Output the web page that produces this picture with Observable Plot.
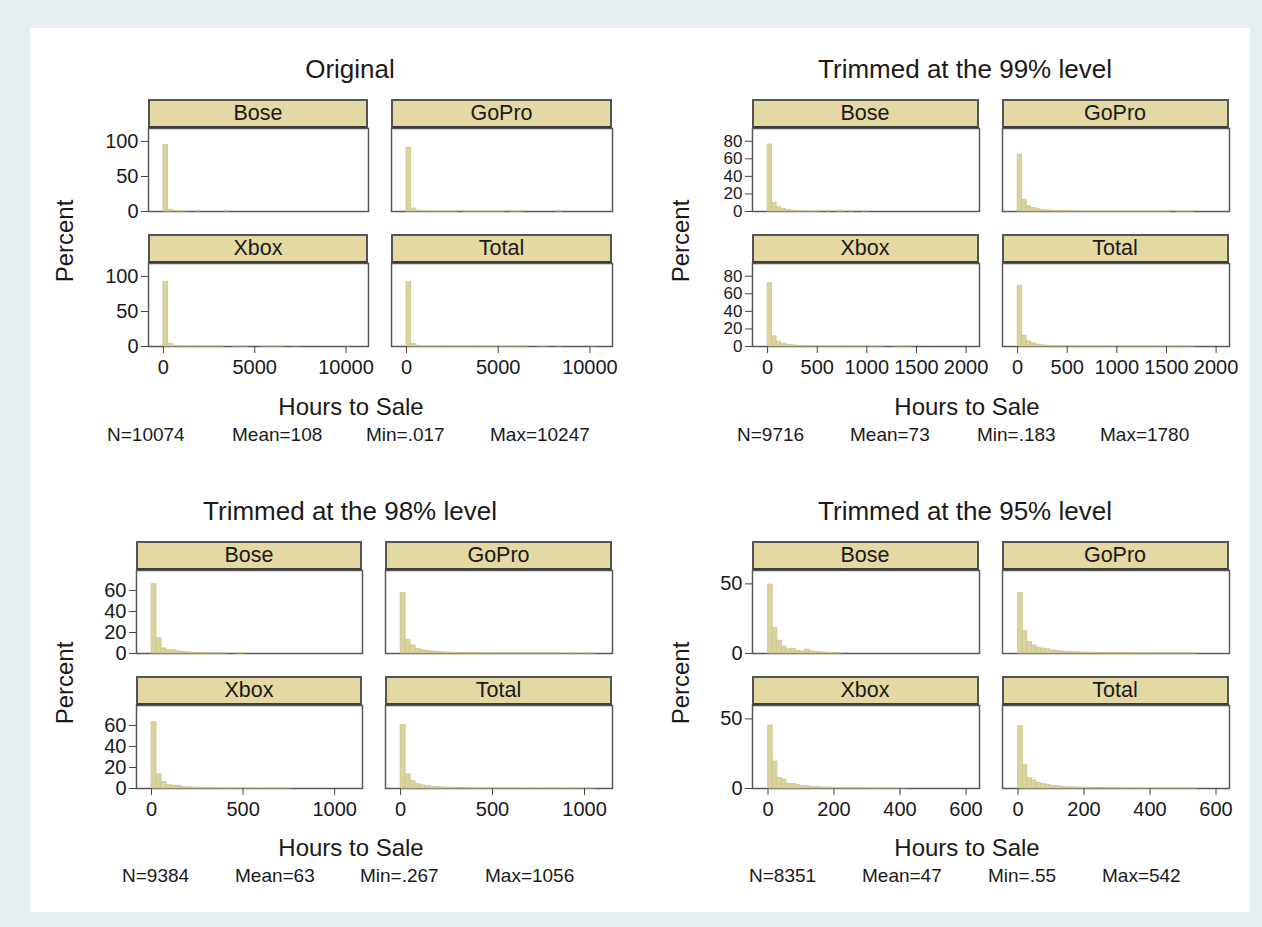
<!DOCTYPE html>
<html><head><meta charset="utf-8">
<script src="https://cdn.jsdelivr.net/npm/d3@7"></script>
<script src="https://cdn.jsdelivr.net/npm/@observablehq/plot@0.6"></script>
<style>
html,body{margin:0;padding:0;background:#e8eff2;}
#page{position:relative;width:1262px;height:927px;overflow:hidden;font-family:"Liberation Sans",Arial,sans-serif;color:#1a1a1a;}
#inner{position:absolute;left:30px;top:28px;width:1220px;height:884px;background:#fff;}
.t{position:absolute;white-space:nowrap;line-height:1;}
.hdr{position:absolute;box-sizing:border-box;background:#e4d9a3;border:2px solid #555;border-bottom:2.5px solid #3d3d3d;display:flex;align-items:center;justify-content:center;font-size:21.5px;line-height:1;}
.fac{position:absolute;}
</style></head><body><div id="page"><div id="inner"></div></div>
<script>
// ---------- data ----------
const groups = ["Bose", "GoPro", "Xbox", "Total"];
const panelTitles = ["Original", "Trimmed at the 99% level", "Trimmed at the 98% level", "Trimmed at the 95% level"];
const statN = [10074, 9716, 9384, 8351];
const statMean = [108, 73, 63, 47];
const statMin = [".017", ".183", ".267", ".55"];
const statMax = [10247, 1780, 1056, 542];
const binCount = [40, 39, 39, 39];
const xTicks = [[0, 5000, 10000], [0, 500, 1000, 1500, 2000], [0, 500, 1000], [0, 200, 400, 600]];
const yTicks = [[0, 50, 100], [0, 20, 40, 60, 80], [0, 20, 40, 60], [0, 50]];

// Percent per bin (Original)
const origBose = [
 95.2, 2.6, 0.7, 0.4, 0.3, 0, 0, 0.3, 0, 0,
 0, 0, 0, 0.3, 0, 0, 0, 0, 0, 0,
 0, 0, 0, 0, 0, 0, 0, 0, 0, 0,
 0, 0, 0, 0, 0, 0, 0, 0, 0, 0];
const origGoPro = [
 90.6, 4.2, 1.3, 0.4, 0.3, 0.3, 0.2, 0.2, 0.2, 0.2,
 0.2, 0, 0.1, 0.1, 0.1, 0.1, 0.1, 0.1, 0.1, 0.1,
 0.1, 0, 0.1, 0.1, 0.1, 0, 0, 0, 0, 0,
 0, 0, 0.1, 0, 0, 0, 0, 0, 0, 0];
const origXbox = [
 92.5, 4.0, 1.2, 0.6, 0.4, 0.3, 0.2, 0.2, 0.1, 0.1,
 0.1, 0.1, 0.1, 0, 0, 0.1, 0.1, 0.1, 0, 0,
 0, 0.1, 0.1, 0.1, 0.1, 0.1, 0, 0, 0.1, 0,
 0, 0, 0, 0, 0, 0, 0, 0, 0, 0.1];
const origTotal = [
 92.4, 3.7, 1.1, 0.5, 0.4, 0.3, 0.2, 0.2, 0.1, 0.1,
 0.1, 0.05, 0.1, 0.05, 0.05, 0.1, 0.05, 0.05, 0.05, 0.05,
 0.05, 0.05, 0.05, 0.05, 0.05, 0.05, 0, 0, 0.05, 0.05,
 0, 0, 0.05, 0, 0, 0, 0, 0, 0, 0.05];

// Trimmed 99%
const t99Bose = [
 76.3, 9.8, 5.2, 3.0, 1.6, 0.9, 0.6, 0.4, 0.3, 0.3,
 0.2, 0.2, 0, 0.2, 0, 0.2, 0.2, 0, 0.2, 0,
 0, 0.2, 0, 0, 0, 0, 0, 0, 0, 0,
 0, 0, 0, 0, 0, 0, 0, 0, 0];
const t99GoPro = [
 64.8, 13.0, 6.0, 4.1, 2.5, 1.7, 1.2, 0.9, 0.7, 0.6,
 0.5, 0.4, 0.35, 0.3, 0.3, 0.25, 0.25, 0.2, 0.2, 0.2,
 0.2, 0.2, 0.15, 0.15, 0.15, 0.15, 0.15, 0.15, 0.15, 0.15,
 0.1, 0.1, 0.1, 0.1, 0, 0.1, 0.1, 0.1, 0.1];
const t99Xbox = [
 72.0, 11.5, 5.5, 3.2, 2.0, 1.3, 0.9, 0.6, 0.5, 0.4,
 0.3, 0.25, 0.2, 0.2, 0.15, 0.15, 0.15, 0.1, 0.1, 0.1,
 0.1, 0.1, 0.1, 0.1, 0.1, 0.1, 0, 0, 0.1, 0.1,
 0.1, 0.1, 0, 0, 0, 0, 0, 0, 0];
const t99Total = [
 69.0, 12.0, 5.8, 3.6, 2.2, 1.4, 1.0, 0.7, 0.6, 0.45,
 0.4, 0.3, 0.3, 0.25, 0.2, 0.2, 0.2, 0.15, 0.15, 0.15,
 0.1, 0.1, 0.1, 0.1, 0.1, 0.1, 0.1, 0.1, 0.1, 0.1,
 0.1, 0.1, 0.1, 0.05, 0.05, 0.05, 0.05, 0.05, 0.05];

// Trimmed 98%
const t98Bose = [
 66.0, 14.5, 4.8, 3.2, 3.0, 2.0, 1.3, 1.0, 0.7, 0.5,
 0.4, 0.3, 0.3, 0.3, 0.2, 0, 0, 0.3, 0.3, 0,
 0, 0, 0, 0, 0, 0, 0, 0, 0, 0,
 0, 0, 0, 0, 0, 0, 0, 0, 0];
const t98GoPro = [
 57.4, 13.0, 7.6, 4.5, 3.0, 2.5, 1.8, 1.5, 1.1, 0.9,
 0.7, 0.6, 0.5, 0.4, 0.4, 0.35, 0.3, 0.3, 0.25, 0.25,
 0.2, 0.2, 0.2, 0.2, 0.15, 0.15, 0.15, 0.15, 0.15, 0.15,
 0.15, 0.1, 0.1, 0.1, 0.1, 0.1, 0.1, 0.1, 0.1];
const t98Xbox = [
 63.0, 13.5, 6.2, 3.5, 2.8, 2.5, 1.5, 1.2, 0.9, 0.7,
 0.5, 0.4, 0.4, 0.3, 0.3, 0.25, 0.2, 0.2, 0.2, 0.15,
 0.15, 0.15, 0.15, 0.1, 0.1, 0.1, 0.1, 0.1, 0, 0,
 0, 0, 0, 0, 0, 0, 0, 0, 0];
const t98Total = [
 60.5, 13.5, 7.0, 4.0, 3.0, 2.5, 1.6, 1.3, 1.0, 0.8,
 0.6, 0.5, 0.45, 0.4, 0.35, 0.3, 0.3, 0.25, 0.25, 0.2,
 0.2, 0.2, 0.15, 0.15, 0.1, 0.1, 0.1, 0.1, 0.1, 0.1,
 0.1, 0.1, 0.1, 0.1, 0.1, 0.05, 0.05, 0.05, 0.05];

// Trimmed 95%
const t95Bose = [
 49.5, 18.4, 9.2, 5.0, 3.0, 3.3, 2.0, 1.5, 2.7, 1.5,
 1.0, 0.9, 0.7, 0.5, 0.4, 0.3, 0, 0, 0, 0,
 0, 0, 0, 0, 0, 0, 0, 0, 0, 0,
 0, 0, 0, 0, 0, 0, 0, 0, 0];
const t95GoPro = [
 43.3, 16.0, 8.1, 5.7, 4.2, 3.5, 3.0, 2.2, 1.8, 1.5,
 1.2, 1.0, 0.9, 0.8, 0.7, 0.6, 0.5, 0.5, 0.4, 0.4,
 0.35, 0.3, 0.3, 0.3, 0.25, 0.25, 0.2, 0.2, 0.2, 0.2,
 0.2, 0.15, 0.15, 0.15, 0.15, 0.15, 0.15, 0.1, 0.1];
const t95Xbox = [
 45.2, 19.4, 7.4, 6.5, 3.3, 3.3, 2.4, 1.8, 1.6, 1.2,
 1.0, 0.8, 0.7, 0.6, 0.5, 0.4, 0.4, 0.35, 0.3, 0.3,
 0.25, 0.25, 0.2, 0.2, 0.2, 0.15, 0.15, 0.15, 0.15, 0.1,
 0, 0, 0, 0, 0, 0, 0, 0, 0];
const t95Total = [
 44.7, 17.0, 7.4, 5.7, 4.0, 3.2, 2.6, 2.0, 1.7, 1.3,
 1.1, 0.9, 0.8, 0.7, 0.6, 0.5, 0.45, 0.4, 0.35, 0.3,
 0.3, 0.25, 0.25, 0.2, 0.2, 0.2, 0.2, 0.15, 0.15, 0.15,
 0.15, 0.15, 0.1, 0.1, 0.1, 0.1, 0.1, 0.1, 0.1];

const panelSeries = [
  [origBose, origGoPro, origXbox, origTotal],
  [t99Bose, t99GoPro, t99Xbox, t99Total],
  [t98Bose, t98GoPro, t98Xbox, t98Total],
  [t95Bose, t95GoPro, t95Xbox, t95Total]
];

// ---------- layout ----------
const HDR = 29, PLOT_H = 83;
const layout = [
  {cols: [[148, 368], [391, 612]], rows: [99, 234], xDom: [-818, 11230], yMax: 118.5, yFont: 20,
   title: [350, 69], pct: [65, 241], hts: [351, 407], statY: 434, statX: [107, 232, 366, 490]},
  {cols: [[751.5, 978.5], [1001.5, 1228.5]], rows: [99, 234], xDom: [-152, 2135], yMax: 94.5, yFont: 17,
   title: [965, 69], pct: [681, 241], hts: [967, 407], statY: 434, statX: [737, 850, 977, 1100]},
  {cols: [[136, 362], [385, 612]], rows: [541, 676], xDom: [-82, 1152], yMax: 79, yFont: 20,
   title: [350, 511], pct: [65, 683], hts: [351, 848], statY: 875, statX: [122, 235, 360, 485]},
  {cols: [[751.5, 978.5], [1001.5, 1228.5]], rows: [541, 676], xDom: [-47, 641], yMax: 59.6, yFont: 20,
   title: [965, 511], pct: [681, 683], hts: [967, 848], statY: 875, statX: [749, 862, 988, 1102]}
];

const page = document.getElementById("page");
function addText(str, x, y, size, opt = {}) {
  const d = document.createElement("div");
  d.className = "t";
  d.textContent = str;
  d.style.fontSize = size + "px";
  d.style.left = x + "px";
  d.style.top = y + "px";
  if (opt.start) d.style.transform = "translate(0,-50%)";
  else d.style.transform = "translate(-50%,-50%)" + (opt.rotate ? " rotate(-90deg)" : "");
  page.appendChild(d);
}

const mL = 60, mR = 4, mT = 2, mB = 44;
panelSeries.forEach((series, p) => {
  const L = layout[p];
  const min = parseFloat(statMin[p]);
  const w = (statMax[p] - min) / binCount[p];
  series.forEach((vals, g) => {
    const r = Math.floor(g / 2), c = g % 2;
    const col = L.cols[c];
    const W = col[1] - col[0];
    const plotTop = L.rows[r] + HDR;
    const isLeft = c === 0, isBottom = r === 1;
    const bins = vals.map((v, i) => ({x1: min + i * w, x2: min + (i + 1) * w, pct: v})).filter(d => d.pct > 0);
    const marks = [
      Plot.frame({stroke: "#585858", strokeWidth: 1.5}),
      Plot.rectY(bins, {x1: "x1", x2: "x2", y: "pct", fill: "#dad39e", stroke: "#cdc58c", strokeWidth: 0.8, inset: 0})
    ];
    if (isLeft) marks.push(Plot.axisY({ticks: yTicks[p], tickSize: 7, tickPadding: 3, fontSize: L.yFont, label: null, stroke: "#444"}));
    if (isBottom) marks.push(Plot.axisX({ticks: xTicks[p], tickFormat: "d", tickSize: 7, tickPadding: 6, fontSize: 20, label: null, stroke: "#444"}));
    const svg = Plot.plot({
      width: W + mL + mR, height: PLOT_H + mT + mB,
      marginLeft: mL, marginRight: mR, marginTop: mT, marginBottom: mB,
      style: {fontFamily: "Liberation Sans, Arial, sans-serif", fontSize: "20px", color: "#1a1a1a", background: "transparent", overflow: "visible"},
      x: {domain: L.xDom, axis: null},
      y: {domain: [0, L.yMax], axis: null},
      marks
    });
    const holder = document.createElement("div");
    holder.className = "fac";
    holder.style.left = (col[0] - mL) + "px";
    holder.style.top = (plotTop - mT) + "px";
    holder.appendChild(svg);
    page.appendChild(holder);
    const h = document.createElement("div");
    h.className = "hdr";
    h.style.left = col[0] + "px";
    h.style.top = L.rows[r] + "px";
    h.style.width = W + "px";
    h.style.height = HDR + "px";
    h.textContent = groups[g];
    page.appendChild(h);
  });
  addText(panelTitles[p], L.title[0], L.title[1], 26);
  addText("Percent", L.pct[0], L.pct[1], 24, {rotate: true});
  addText("Hours to Sale", L.hts[0], L.hts[1], 24);
  addText("N=" + statN[p], L.statX[0], L.statY, 19, {start: true});
  addText("Mean=" + statMean[p], L.statX[1], L.statY, 19, {start: true});
  addText("Min=" + statMin[p], L.statX[2], L.statY, 19, {start: true});
  addText("Max=" + statMax[p], L.statX[3], L.statY, 19, {start: true});
});
</script>
</body></html>
